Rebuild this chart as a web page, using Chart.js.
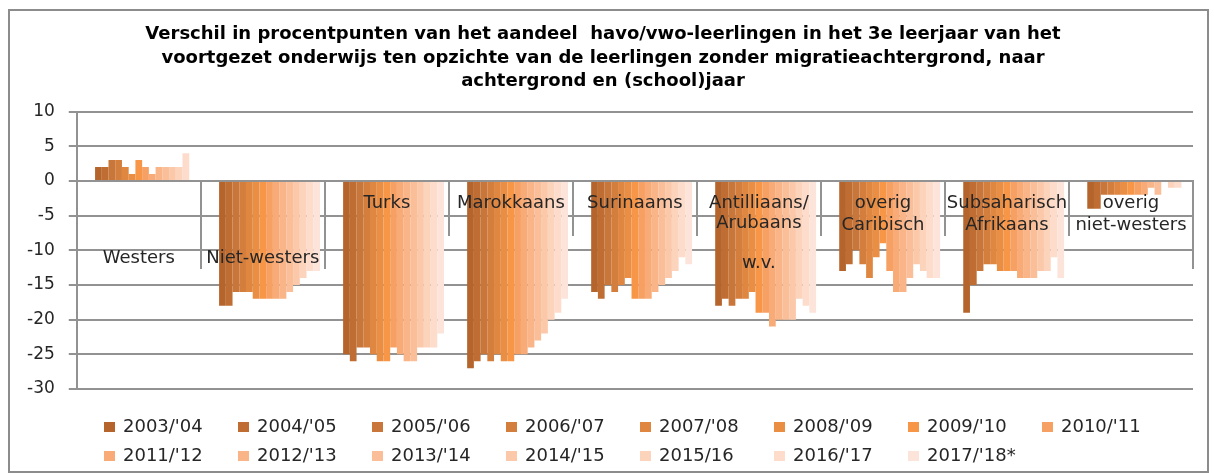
<!DOCTYPE html>
<html>
<head>
<meta charset="utf-8">
<script src="https://cdn.jsdelivr.net/npm/chart.js@4.4.1/dist/chart.umd.min.js"></script>
<style>
  html, body { margin: 0; padding: 0; background: #fff; }
  #frame { position: absolute; left: 8px; top: 9px; width: 1197px; height: 460px; border: 2px solid #8c8c8c; }
  #wrap { position: absolute; left: 0; top: 0; width: 1214px; height: 473px; }
</style>
</head>
<body>
<div id="frame"></div>
<div id="wrap"><canvas id="chart" width="1214" height="473"></canvas></div>
<script>
// Categories (labels with a line break where the original has one)
const categories = [
    'Westers',
    'Niet-westers',
    'Turks',
    'Marokkaans',
    'Surinaams',
    ['Antilliaans/', 'Arubaans', '', 'w.v.'],
    ['overig', 'Caribisch'],
    ['Subsaharisch', 'Afrikaans'],
    ['overig', 'niet-westers']
];

// School years (series)
const schoolYears = [
    "2003/'04", "2004/'05", "2005/'06", "2006/'07", "2007/'08",
    "2008/'09", "2009/'10", "2010/'11", "2011/'12", "2012/'13",
    "2013/'14", "2014/'15", "2015/16", "2016/'17", "2017/'18*"
];

// Values per category, one per school year (procentpunten)
const westers        = [2, 2, 3, 3, 2, 1, 3, 2, 1, 2, 2, 2, 2, 4, null];
const nietWesters    = [-18, -18, -16, -16, -16, -17, -17, -17, -17, -17, -16, -15, -14, -13, -13];
const turks          = [-25, -26, -24, -24, -25, -26, -26, -24, -25, -26, -26, -24, -24, -24, -22];
const marokkaans     = [-27, -26, -25, -26, -25, -26, -26, -25, -25, -24, -23, -22, -20, -19, -17];
const surinaams      = [-16, -17, -15, -16, -15, -14, -17, -17, -17, -16, -15, -14, -13, -11, -12];
const antilliaans    = [-18, -17, -18, -17, -17, -16, -19, -19, -21, -20, -20, -20, -17, -18, -19];
const overigCaribisch = [-13, -12, -10, -12, -14, -11, -9, -13, -16, -16, -14, -12, -13, -14, -14];
const subsaharisch   = [-19, -15, -13, -12, -12, -13, -13, -13, -14, -14, -14, -13, -13, -11, -14];
const overigNW       = [-4, -4, -2, -2, -2, -2, -2, -2, -2, -1, -2, 0, -1, -1, null];

const groups = [westers, nietWesters, turks, marokkaans, surinaams,
                antilliaans, overigCaribisch, subsaharisch, overigNW];

// Y axis ticks
const yMin = -30, yMax = 10, yStep = 5;

// Styles
const seriesColors = [
    '#b5652c', '#bf6d33', '#c9763a', '#d47e3e', '#df8641',
    '#ea8e44', '#f79646', '#f7a064', '#f8ab76', '#f9b587',
    '#fabf98', '#fbc9aa', '#fcd3bb', '#fddccc', '#fde4da'
];
const labelLineHeights = ['131px', '131px', '21.5px', '21.5px', '21.5px', '20px', '21.5px', '21.5px', '21.5px'];
const separatorDepth = [88, 88, 55, 55, 55, 55, 55, 55, 88];
const gridGray = '#929292';
const textColor = '#262626';

// Vertical separators below the zero line between categories
const categorySeparators = {
    id: 'categorySeparators',
    afterDatasetsDraw(chart) {
        const ctx = chart.ctx;
        const x = chart.scales.x, y = chart.scales.y;
        const step = x.width / categories.length;
        const y0 = y.getPixelForValue(0);
        ctx.save();
        ctx.strokeStyle = gridGray;
        ctx.lineWidth = 2;
        ctx.beginPath();
        categories.forEach((c, i) => {
            const px = Math.round(x.getPixelForValue(i) + step / 2);
            ctx.moveTo(px, y0);
            ctx.lineTo(px, y0 + separatorDepth[i]);
        });
        ctx.stroke();
        ctx.restore();
    }
};

// Legend in a fixed grid of 8 columns
const gridLegend = {
    id: 'gridLegend',
    afterDraw(chart) {
        const ctx = chart.ctx;
        const sets = chart.data.datasets.filter(d => d.label);
        ctx.save();
        ctx.font = '18px "DejaVu Sans"';
        ctx.textBaseline = 'middle';
        ctx.textAlign = 'left';
        sets.forEach((ds, i) => {
            const col = i % 8, row = Math.floor(i / 8);
            const bx = 104 + col * 134;
            const by = 427 + row * 29;
            ctx.fillStyle = ds.backgroundColor;
            ctx.fillRect(bx, by - 5, 11, 10);
            ctx.fillStyle = textColor;
            ctx.fillText(ds.label, bx + 19, by);
        });
        ctx.restore();
    }
};

// two empty leading slots push the clusters right, as in the original
const datasets = [
    { label: '', data: [] },
    { label: '', data: [] }
].concat(schoolYears.map((yr, s) => ({
    label: yr,
    data: groups.map(g => g[s]),
    backgroundColor: seriesColors[s],
    borderWidth: 0
})));

new Chart(document.getElementById('chart'), {
    type: 'bar',
    data: { labels: categories, datasets: datasets },
    options: {
        responsive: false,
        animation: false,
        devicePixelRatio: 1,
        layout: { padding: { left: 13, right: 21, top: 0, bottom: 84 } },
        datasets: { bar: { categoryPercentage: 0.922, barPercentage: 1.0 } },
        scales: {
            x: {
                position: { y: 0 },
                offset: true,
                grid: { display: false, drawTicks: false },
                border: { display: true, color: gridGray, width: 2, z: 1 },
                ticks: {
                    z: 1,
                    padding: 12,
                    autoSkip: false,
                    maxRotation: 0,
                    minRotation: 0,
                    color: textColor,
                    font: (c) => ({ family: 'DejaVu Sans', size: 18, lineHeight: labelLineHeights[c.index] })
                },
                afterFit: (scale) => { scale.height = 0; }
            },
            y: {
                min: yMin,
                max: yMax,
                ticks: { stepSize: yStep, padding: 14, color: textColor, font: { family: 'DejaVu Sans', size: 17 } },
                grid: { color: gridGray, lineWidth: 2, drawTicks: true, tickLength: 8 },
                border: { color: gridGray, width: 2 }
            }
        },
        plugins: {
            legend: { display: false },
            tooltip: { enabled: false },
            title: {
                display: true,
                text: [
                    'Verschil in procentpunten van het aandeel  havo/vwo-leerlingen in het 3e leerjaar van het',
                    'voortgezet onderwijs ten opzichte van de leerlingen zonder migratieachtergrond, naar',
                    'achtergrond en (school)jaar'
                ],
                color: '#000',
                font: { family: 'DejaVu Sans', weight: 'bold', size: 18, lineHeight: '23.5px' },
                padding: { top: 23, bottom: 18 }
            }
        }
    },
    plugins: [categorySeparators, gridLegend]
});
</script>
</body>
</html>
